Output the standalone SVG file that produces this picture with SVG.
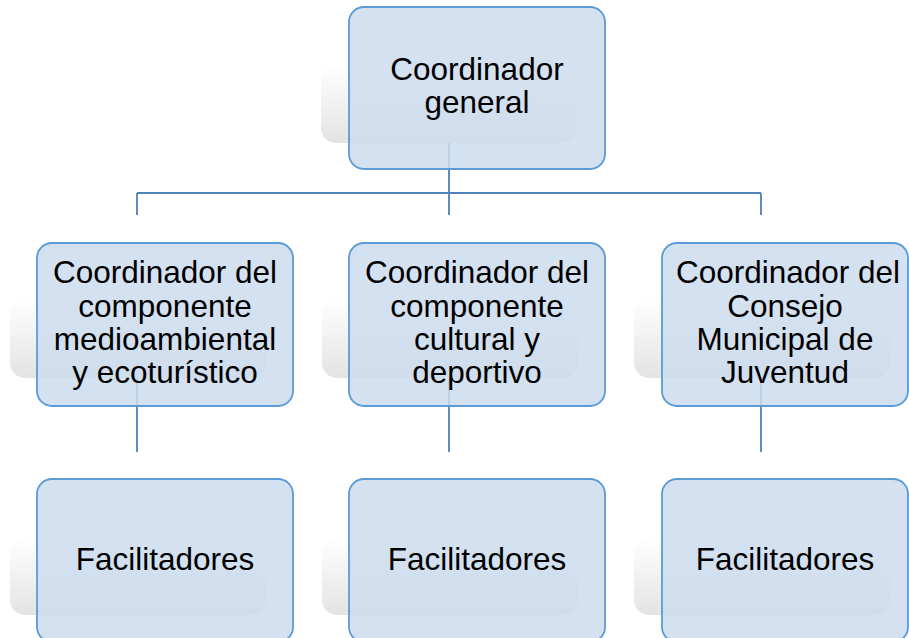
<svg xmlns="http://www.w3.org/2000/svg" width="909" height="638" viewBox="0 0 909 638">
<defs>
<linearGradient id="sh" x1="0" y1="0" x2="0" y2="1">
<stop offset="0" stop-color="#ffffff"/>
<stop offset="1" stop-color="#e3e3e3"/>
</linearGradient>
<style>
.shadow{fill:url(#sh);}
.box{fill:#ccdcee;fill-opacity:0.85;stroke:#5b9bd5;stroke-width:1.8;}
.conn{stroke:#4f81bd;stroke-width:1.8;fill:none;}
.t{font-family:"Liberation Sans",Arial,sans-serif;font-size:31.5px;fill:#000;text-anchor:middle;}
</style>
</defs>
<rect width="909" height="638" fill="#ffffff"/>
<g id="connectors">
<path class="conn" d="M449,88 V215 M137,193 H761 M137,193 V215 M761,193 V215"/>
<path class="conn" d="M137,340 V452 M449,340 V452 M761,340 V452"/>
</g>
<g id="n-top">
<rect class="shadow" x="321" y="65" width="256" height="78" rx="15"/>
<rect class="box" x="349" y="7" width="256" height="162" rx="15"/>
<text class="t" x="477" y="80">Coordinador</text>
<text class="t" x="477" y="113.3">general</text>
</g>
<g id="n-medio">
<rect class="shadow" x="10" y="298" width="256" height="80" rx="15"/>
<rect class="box" x="37" y="243" width="256" height="163" rx="15"/>
<text class="t" x="165" y="283.3">Coordinador del</text>
<text class="t" x="165" y="316.7">componente</text>
<text class="t" x="165" y="350">medioambiental</text>
<text class="t" x="165" y="383.3">y ecoturístico</text>
</g>
<g id="n-cultural">
<rect class="shadow" x="322" y="298" width="256" height="80" rx="15"/>
<rect class="box" x="349" y="243" width="256" height="163" rx="15"/>
<text class="t" x="477" y="283.3">Coordinador del</text>
<text class="t" x="477" y="316.7">componente</text>
<text class="t" x="477" y="350">cultural y</text>
<text class="t" x="477" y="383.3">deportivo</text>
</g>
<g id="n-juventud">
<rect class="shadow" x="634" y="298" width="256" height="80" rx="15"/>
<rect class="box" x="662" y="243" width="246" height="163" rx="15"/>
<text class="t" x="788" y="283.3">Coordinador del</text>
<text class="t" x="785" y="316.7">Consejo</text>
<text class="t" x="785" y="350">Municipal de</text>
<text class="t" x="785" y="383.3">Juventud</text>
</g>
<g id="n-fac1">
<rect class="shadow" x="10" y="538" width="256" height="77" rx="15"/>
<rect class="box" x="37" y="479" width="256" height="163" rx="15"/>
<text class="t" x="165" y="570">Facilitadores</text>
</g>
<g id="n-fac2">
<rect class="shadow" x="322" y="538" width="256" height="77" rx="15"/>
<rect class="box" x="349" y="479" width="256" height="163" rx="15"/>
<text class="t" x="477" y="570">Facilitadores</text>
</g>
<g id="n-fac3">
<rect class="shadow" x="634" y="538" width="256" height="77" rx="15"/>
<rect class="box" x="662" y="479" width="246" height="163" rx="15"/>
<text class="t" x="785" y="570">Facilitadores</text>
</g>
</svg>
